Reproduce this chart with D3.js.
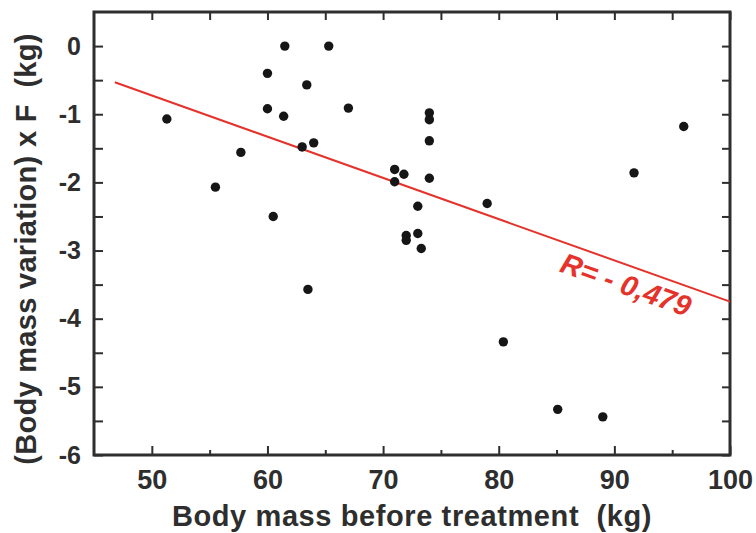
<!DOCTYPE html>
<html>
<head>
<meta charset="utf-8">
<script src="https://cdn.jsdelivr.net/npm/d3@7"></script>
<style>
  body { margin: 0; background: #fff; }
  svg text { font-family: "Liberation Sans", Arial, sans-serif; font-weight: bold; }
</style>
</head>
<body>
<div id="chart"></div>
<script>
// data
const massBefore = [51.3, 55.5, 57.7, 60.0, 60.0, 60.5, 61.5, 61.4, 63.4, 63.0, 64.0, 63.5, 65.3, 67.0,
  71.0, 71.8, 71.0, 73.0, 72.0, 72.0, 73.0, 73.3, 74.0, 74.0, 74.0, 74.0, 79.0, 80.4, 85.1, 89.0, 91.7, 96.0];
const massVar = [-1.07, -2.07, -1.56, -0.40, -0.92, -2.50, 0.0, -1.03, -0.57, -1.48, -1.42, -3.57, 0.0, -0.91,
  -1.81, -1.88, -1.99, -2.35, -2.78, -2.85, -2.75, -2.97, -0.98, -1.08, -1.39, -1.94, -2.31, -4.34, -5.33, -5.44, -1.86, -1.18];
const fitX = [46.8, 100];
const fitY = [-0.53, -3.75];
const xTicks = [50, 60, 70, 80, 90, 100];
const xMinor = [55, 65, 75, 85, 95];
const yTicks = [0, -1, -2, -3, -4, -5, -6];
const yMinor = [-0.5, -1.5, -2.5, -3.5, -4.5, -5.5];
const rLabel = "R= - 0,479";

const width = 756, height = 533;
const margins = {top: 12, right: 26, bottom: 78, left: 94};
const ink = "#2e2e2e";
const red = "#e5322b";

const svg = d3.select("#chart").append("svg")
  .attr("width", width)
  .attr("height", height);

const x = d3.scaleLinear().domain([45, 100]).range([margins.left, width - margins.right]);
const y = d3.scaleLinear().domain([-6, 0.5]).range([height - margins.bottom, margins.top]);

const points = massBefore.map((m, i) => ({x: m, y: massVar[i]}));
const plain = d => String(d); // keep ascii hyphen like the original

// axes, ticks pointing inward
function styleAxis(size) {
  return g => {
    g.select(".domain").remove();
    g.selectAll("line").attr("stroke", ink).attr("stroke-width", 2);
    g.selectAll("text").attr("fill", ink).style("font-size", size + "px");
  };
}

svg.append("g")
  .attr("transform", `translate(0,${y(-6)})`)
  .call(d3.axisBottom(x).tickValues(xTicks).tickSizeInner(-9).tickSizeOuter(0).tickPadding(15).tickFormat(plain))
  .call(styleAxis(27));
svg.append("g")
  .attr("transform", `translate(0,${y(-6)})`)
  .call(d3.axisBottom(x).tickValues(xMinor).tickSize(-5).tickFormat(""))
  .call(styleAxis(27));
svg.append("g")
  .attr("transform", `translate(0,${y(0.5)})`)
  .call(d3.axisTop(x).tickValues(xTicks.concat(xMinor)).tickSize(-8).tickFormat(""))
  .call(styleAxis(27));

svg.append("g")
  .attr("transform", `translate(${x(45)},0)`)
  .call(d3.axisLeft(y).tickValues(yTicks).tickSizeInner(-9).tickSizeOuter(0).tickPadding(13).tickFormat(plain))
  .call(styleAxis(25));
svg.append("g")
  .attr("transform", `translate(${x(45)},0)`)
  .call(d3.axisLeft(y).tickValues(yMinor).tickSize(-9).tickFormat(""))
  .call(styleAxis(25));
svg.append("g")
  .attr("transform", `translate(${x(100)},0)`)
  .call(d3.axisRight(y).tickValues(yTicks.concat(yMinor)).tickSize(-8).tickFormat(""))
  .call(styleAxis(25));

// frame
svg.append("rect")
  .attr("x", x(45))
  .attr("y", y(0.5))
  .attr("width", x(100) - x(45))
  .attr("height", y(-6) - y(0.5))
  .attr("fill", "none")
  .attr("stroke", ink)
  .attr("stroke-width", 3);

// fit line
svg.append("line")
  .attr("x1", x(fitX[0])).attr("y1", y(fitY[0]))
  .attr("x2", x(fitX[1])).attr("y2", y(fitY[1]))
  .attr("stroke", red)
  .attr("stroke-width", 2);

// dots
svg.selectAll("circle")
  .data(points)
  .join("circle")
  .attr("cx", d => x(d.x))
  .attr("cy", d => y(d.y))
  .attr("r", 4.7)
  .attr("fill", "#161616");

// R label along the line
const angle = Math.atan2(y(fitY[1]) - y(fitY[0]), x(fitX[1]) - x(fitX[0])) * 180 / Math.PI;
svg.append("text")
  .attr("transform", `translate(${x(91)},${y(-3.5)}) rotate(${angle})`)
  .attr("text-anchor", "middle")
  .attr("dominant-baseline", "central")
  .attr("fill", red)
  .style("font-size", "29px")
  .style("font-style", "italic")
  .text(rLabel);

// axis titles
svg.append("text")
  .attr("x", 412)
  .attr("y", 526)
  .attr("text-anchor", "middle")
  .attr("fill", ink)
  .style("font-size", "29px")
  .style("letter-spacing", "0.6px")
  .style("white-space", "pre")
  .text("Body mass before treatment  (kg)");

svg.append("text")
  .attr("transform", `translate(36,249) rotate(-90)`)
  .attr("text-anchor", "middle")
  .attr("fill", ink)
  .style("font-size", "29px")
  .style("letter-spacing", "0.3px")
  .style("white-space", "pre")
  .text("(Body mass variation) x F  (kg)");
</script>
</body>
</html>
